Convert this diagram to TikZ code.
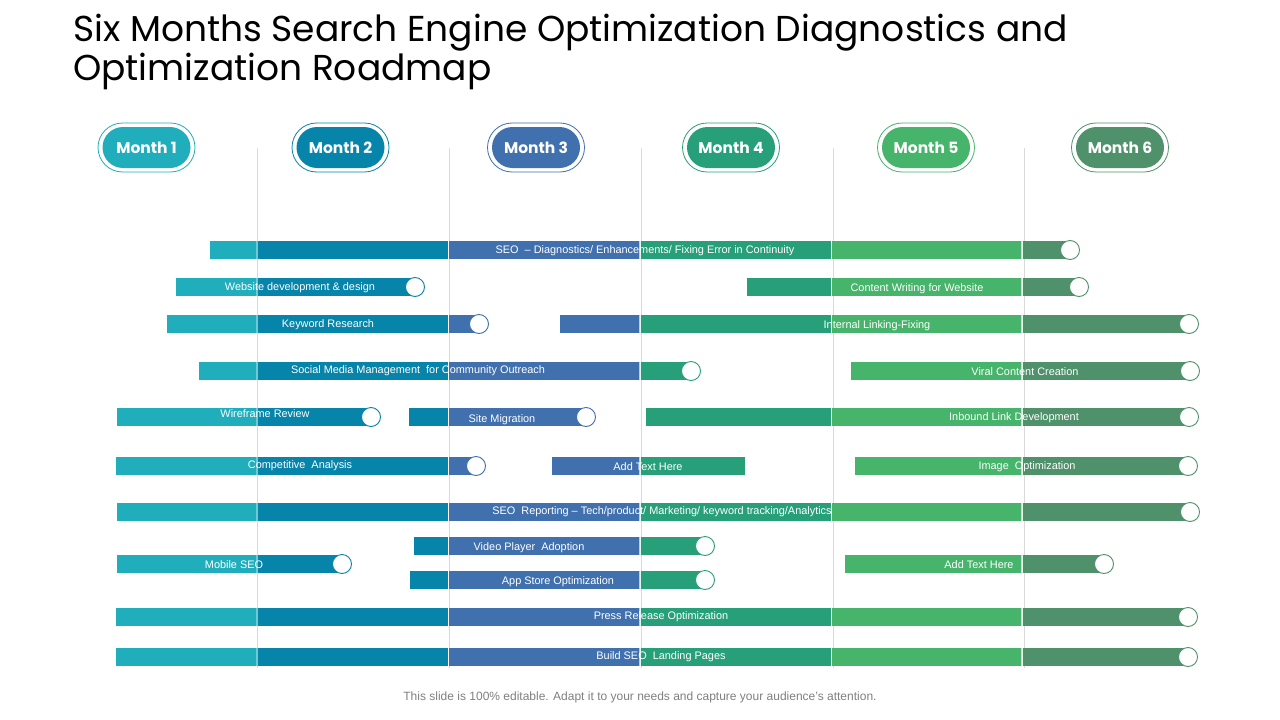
\documentclass[tikz,border=0pt]{standalone}
\usepackage{fontspec}
\setmainfont{Liberation Sans}
\newfontfamily\titlefont{Poppins}
\usetikzlibrary{shapes.misc}
\definecolor{cA}{HTML}{20AEBC}
\definecolor{cB}{HTML}{0784A9}
\definecolor{cC}{HTML}{4070AD}
\definecolor{cD}{HTML}{27A07A}
\definecolor{cE}{HTML}{46B46A}
\definecolor{cF}{HTML}{4E916A}
\definecolor{gridc}{HTML}{D9D9D9}
\definecolor{footc}{HTML}{808080}
\tikzset{
  bartxt/.style={text=white,font=\fontsize{10.9}{12}\selectfont,inner sep=0pt,yshift=-0.8pt},
  endcirc/.style={circle,fill=white,draw=#1,line width=0.9pt,minimum size=19pt,inner sep=0pt},
  gridline/.style={draw=gridc,line width=0.8pt},
  monthin/.style={rounded rectangle,fill=#1,minimum width=88pt,minimum height=41pt,inner sep=0pt,
     text=white,font=\titlefont\bfseries\fontsize{15.5}{18}\selectfont},
  monthout/.style={rounded rectangle,draw=#1,line width=0.8pt,minimum width=97pt,minimum height=49pt,inner sep=0pt},
}
\newcommand\segbar[3]{% y, x1, x2
  \foreach \L/\R/\c in {0/256.5/cA,257.5/447.8/cB,449/639.3/cC,640.8/830.8/cD,832/1021.3/cE,1022.8/1280/cF}{
    \begin{scope}
      \clip (\L,#1-9) rectangle (\R,#1+9);
      \fill[\c] (#2,#1-9) rectangle (#3,#1+9);
    \end{scope}
  }}
\begin{document}
\begin{tikzpicture}[x=1pt,y=-1pt]
\useasboundingbox[fill=white] (0,0) rectangle (1280,720);
% title
\node[anchor=north west,align=left,inner sep=0pt,font=\titlefont\fontsize{36}{38.5}\selectfont] (title) at (73,14)
  {Six Months Search Engine Optimization Diagnostics and\\Optimization Roadmap};
% grid lines
\foreach \gx [count=\i] in {257,449,641,833,1024}{
  \coordinate (gt\i) at (\gx,148);
  \coordinate (gb\i) at (\gx,668);
  \draw[gridline] (gt\i) -- (gb\i);
}
% months
\foreach \mx/\mc [count=\i] in {146.5/cA,340.5/cB,536/cC,731/cD,926/cE,1120/cF}{
  \node[monthout=\mc] (mo\i) at (\mx,147.5) {};
  \node[monthin=\mc] (m\i) at (\mx,147.5) {Month \i};
}
% row 1
\segbar{250}{210}{1070}
\node[endcirc=cF] (c1) at (1070,250) {};
\node[bartxt] (t1) at (645,250) {SEO \ – Diagnostics/ Enhancements/ Fixing Error in Continuity};
% row 2
\segbar{287}{176}{415}
\node[endcirc=cB] (c2a) at (415,287) {};
\node[bartxt] (t2a) at (300,287) {Website development \& design};
\segbar{287}{747}{1079}
\node[endcirc=cF] (c2b) at (1079,287) {};
\node[bartxt] (t2b) at (917,288) {Content Writing for Website};
% row 3
\segbar{324}{167}{479}
\node[endcirc=cC] (c3a) at (479,324) {};
\node[bartxt] (t3a) at (328,324) {Keyword Research};
\segbar{324}{560}{1189}
\node[endcirc=cF] (c3b) at (1189,324) {};
\node[bartxt] (t3b) at (877,325) {Internal Linking-Fixing};
% row 4
\segbar{371}{199}{691}
\node[endcirc=cD] (c4a) at (691,371) {};
\node[bartxt] (t4a) at (418,370) {Social Media Management \ for Community Outreach};
\segbar{371}{851}{1190}
\node[endcirc=cF] (c4b) at (1190,371) {};
\node[bartxt] (t4b) at (1025,371) {Viral Content Creation};
% row 5
\segbar{417}{117}{371}
\node[endcirc=cB] (c5a) at (371,417) {};
\node[bartxt] (t5a) at (265,413) {Wireframe Review};
\segbar{417}{409}{586}
\node[endcirc=cC] (c5b) at (586,417) {};
\node[bartxt] (t5b) at (502,419) {Site Migration};
\segbar{417}{646}{1189}
\node[endcirc=cF] (c5c) at (1189,417) {};
\node[bartxt] (t5c) at (1014,417) {Inbound Link Development};
% row 6
\segbar{466}{116}{476}
\node[endcirc=cC] (c6a) at (476,466) {};
\node[bartxt] (t6a) at (300,465) {Competitive \ Analysis};
\segbar{466}{552}{745}
\node[bartxt] (t6b) at (648,466) {Add Text Here};
\segbar{466}{855}{1188}
\node[endcirc=cF] (c6c) at (1188,466) {};
\node[bartxt] (t6c) at (1027,466) {Image \ Optimization};
% row 7
\segbar{512}{117}{1190}
\node[endcirc=cF] (c7) at (1190,512) {};
\node[bartxt] (t7) at (662,511) {SEO \ Reporting – Tech/product/ Marketing/ keyword tracking/Analytics};
% row 8
\segbar{546}{414}{705}
\node[endcirc=cD] (c8a) at (705,546) {};
\node[bartxt] (t8a) at (529,547) {Video Player \ Adoption};
\segbar{564}{117}{342}
\node[endcirc=cB] (c8b) at (342,564) {};
\node[bartxt] (t8b) at (234,564) {Mobile SEO};
\segbar{564}{845}{1104}
\node[endcirc=cF] (c8c) at (1104,564) {};
\node[bartxt] (t8c) at (979,564) {Add Text Here};
% row 9
\segbar{580}{410}{705}
\node[endcirc=cD] (c9) at (705,580) {};
\node[bartxt] (t9) at (558,581) {App Store Optimization};
% row 10
\segbar{617}{116}{1188}
\node[endcirc=cF] (c10) at (1188,617) {};
\node[bartxt] (t10) at (661,616) {Press Release Optimization};
% row 11
\segbar{657}{116}{1188}
\node[endcirc=cF] (c11) at (1188,657) {};
\node[bartxt] (t11) at (661,656) {Build SEO \ Landing Pages};
% footer
\node[text=footc,font=\fontsize{12}{14}\selectfont,inner sep=0pt] (foot) at (640,697.5)
  {This slide is 100\% editable. Adapt it to your needs and capture your audience's attention.};
\end{tikzpicture}
\end{document}
